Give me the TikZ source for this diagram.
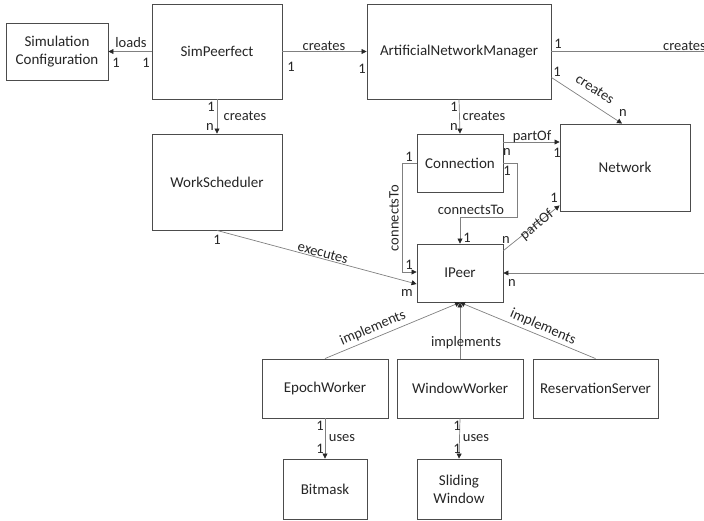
\documentclass[tikz,border=0pt]{standalone}
\usepackage{fontspec}
\setmainfont{Carlito}
\usetikzlibrary{arrows.meta}
\begin{document}
\begin{tikzpicture}[x=1pt,y=-1pt,
  box/.style={draw=black!70, line width=0.9pt, fill=white, inner sep=0pt,
    align=center, font=\fontsize{15}{18}\selectfont, text=black!85},
  rel/.style={draw=black!50, line width=0.7pt,
    -{Triangle[length=5pt,width=5pt,fill=black!85,color=black!85]}},
  lbl/.style={inner sep=0pt, font=\fontsize{14.5}{16}\selectfont, text=black!85}]
\useasboundingbox (0,0) rectangle (704,520);

% classes
\node[box, minimum width=102pt, minimum height=57pt] (simconf) at (57,52) {Simulation\\Configuration};
\node[box, minimum width=130pt, minimum height=95pt] (sim) at (217,51.5) {SimPeerfect};
\node[box, minimum width=184pt, minimum height=95pt] (anm) at (459,51.5) {ArtificialNetworkManager};
\node[box, minimum width=130pt, minimum height=96pt] (ws) at (217,182) {WorkScheduler};
\node[box, minimum width=86pt, minimum height=58pt] (conn) at (460,163) {Connection};
\node[box, minimum width=130pt, minimum height=87pt] (net) at (625,167.5) {Network};
\node[box, minimum width=86pt, minimum height=58pt] (ipeer) at (460,273) {IPeer};
\node[box, minimum width=126pt, minimum height=59pt] (epoch) at (325,388.5) {EpochWorker};
\node[box, minimum width=126pt, minimum height=59pt] (window) at (460,388.5) {WindowWorker};
\node[box, minimum width=125pt, minimum height=59pt] (res) at (595.5,388.5) {ReservationServer};
\node[box, minimum width=84pt, minimum height=60pt] (bitmask) at (325,489) {Bitmask};
\node[box, minimum width=84pt, minimum height=60pt] (sliding) at (459,489) {Sliding\\Window};

% helper points for routed connectors
\coordinate (annout) at (722,51.5);
\coordinate (connturn) at (517,217);
\coordinate (connpart) at ([yshift=21pt]conn.east);

% relations
\draw[rel] (sim.west) -- (simconf.east |- sim.west);
\draw[rel] (sim.east) -- (anm.west);
\draw[rel] (sim.south) -- (ws.north);
\draw[rel] (anm.south) -- (conn.north);
\draw[rel] (anm.east) -- (annout) |- (ipeer.east);
\draw[rel] ([yshift=-26pt]anm.east) -- ([xshift=-3pt]net.north);
\draw[rel] (connpart) -- (net.west |- connpart);
\draw[rel] (conn.west) -- ++(-14,0) |- ([yshift=1pt]ipeer.west);
\draw[rel] (conn.east) -| (connturn) -| (ipeer.north);
\draw[rel] ([yshift=-7pt]ipeer.north east) -- ([yshift=6pt]net.south west);
\draw[rel] (ws.south) -- ([yshift=-11pt]ipeer.west);
\draw[rel] (epoch.north) -- (ipeer.south);
\draw[rel] (window.north) -- (ipeer.south);
\draw[rel] (res.north) -- (ipeer.south);
\draw[rel] (epoch.south) -- (bitmask.north);
\draw[rel] (window.south) -- (sliding.north);

% relation names and multiplicities
\node[lbl] (t1) at (131,43) {loads};
\node[lbl] (t2) at (116,63) {1};
\node[lbl] (t3) at (146,63) {1};
\node[lbl] (t4) at (324,46) {creates};
\node[lbl] (t5) at (291,67) {1};
\node[lbl] (t6) at (362,69) {1};
\node[lbl] (t7) at (211,107) {1};
\node[lbl] (t8) at (245,116) {creates};
\node[lbl] (t9) at (210,127) {n};
\node[lbl] (t10) at (454,107) {1};
\node[lbl] (t11) at (484,116) {creates};
\node[lbl] (t12) at (454,127) {n};
\node[lbl] (t13) at (558,44) {1};
\node[lbl, anchor=west] (t14) at (663,46) {creates};
\node[lbl] (t15) at (557,72) {1};
\node[lbl, rotate=-33] (t16) at (595,89) {creates};
\node[lbl] (t17) at (623,113) {n};
\node[lbl] (t18) at (532,137) {partOf};
\node[lbl] (t19) at (507,152) {n};
\node[lbl] (t20) at (557,153) {1};
\node[lbl] (t21) at (409,157) {1};
\node[lbl, rotate=90] (t22) at (394,218) {connectsTo};
\node[lbl] (t23) at (409,265) {1};
\node[lbl] (t24) at (507,171) {1};
\node[lbl] (t25) at (471,210) {connectsTo};
\node[lbl] (t26) at (467,238) {1};
\node[lbl] (t27) at (506,240) {n};
\node[lbl] (t28) at (554,198) {1};
\node[lbl, rotate=39] (t29) at (537,225) {partOf};
\node[lbl] (t30) at (512,283) {n};
\node[lbl] (t31) at (217,240) {1};
\node[lbl, rotate=-15] (t32) at (323,253) {executes};
\node[lbl] (t33) at (407,293) {m};
\node[lbl, rotate=23] (t34) at (373,328) {implements};
\node[lbl] (t35) at (466,343) {implements};
\node[lbl, rotate=-23] (t36) at (543,327) {implements};
\node[lbl] (t37) at (320,426) {1};
\node[lbl] (t38) at (342,438) {uses};
\node[lbl] (t39) at (320,449) {1};
\node[lbl] (t40) at (457,426) {1};
\node[lbl] (t41) at (476,438) {uses};
\node[lbl] (t42) at (457,449) {1};
\end{tikzpicture}
\end{document}
